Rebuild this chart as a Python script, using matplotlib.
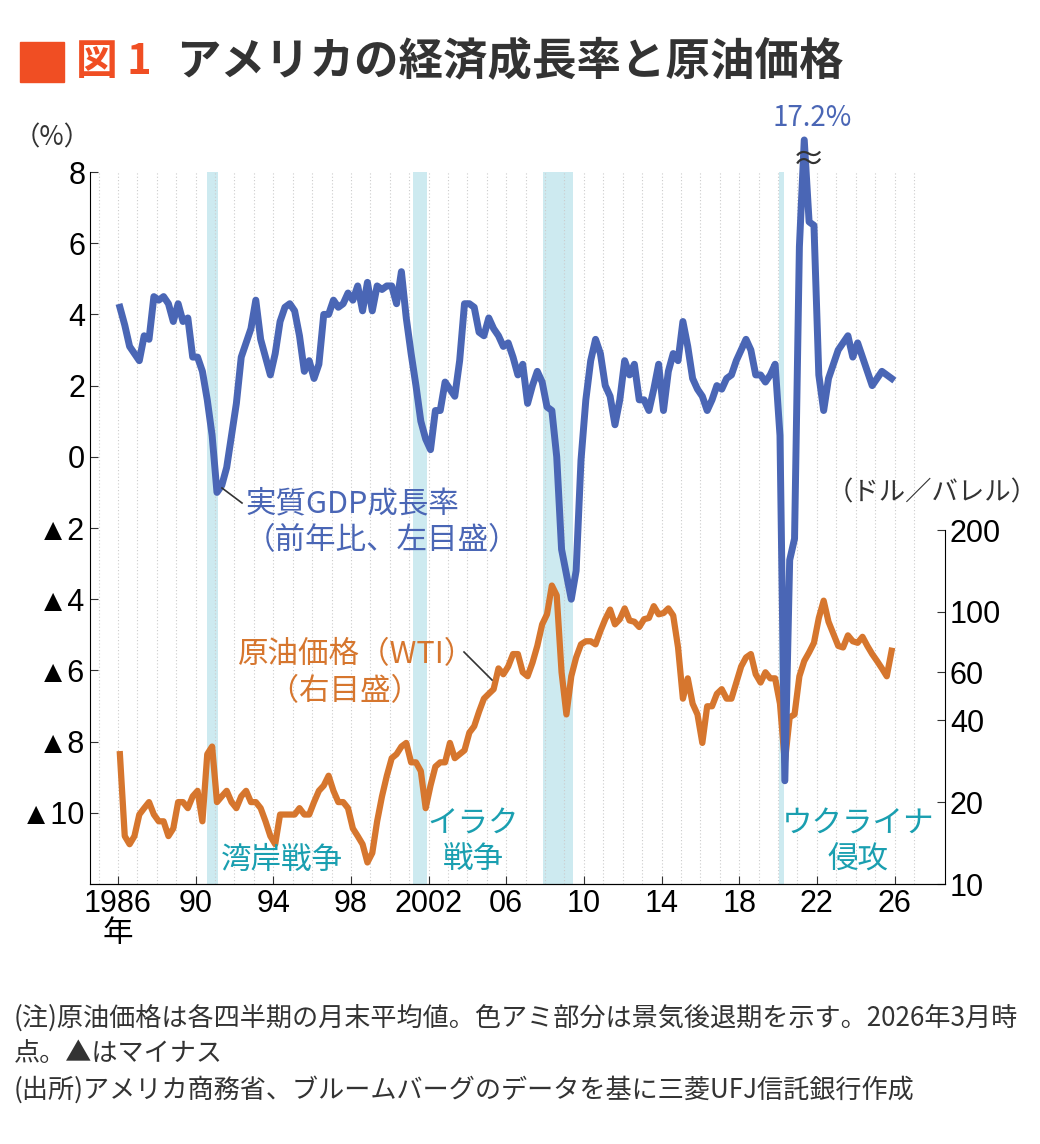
import matplotlib
matplotlib.use("Agg")
import matplotlib.pyplot as plt
import numpy as np

plt.rcParams['font.family'] = ['Noto Sans CJK JP', 'DejaVu Sans']

years = list(range(1986, 2026))
gdp = [4.2,3.7,3.1,2.9, 2.7,3.4,3.3,4.5, 4.4,4.5,4.3,3.8, 4.3,3.8,3.9,2.8,
       2.8,2.4,1.6,0.6, -1.0,-0.8,-0.3,0.6, 1.5,2.8,3.2,3.6, 4.4,3.3,2.8,2.3,
       2.9,3.8,4.2,4.3, 4.1,3.4,2.4,2.7, 2.2,2.6,4.0,4.0, 4.4,4.2,4.3,4.6,
       4.4,4.8,4.1,4.9, 4.1,4.8,4.7,4.8, 4.8,4.3,5.2,3.9, 2.9,2.0,1.0,0.5,
       0.2,1.3,1.3,2.1, 1.9,1.7,2.7,4.3, 4.3,4.2,3.5,3.4, 3.9,3.6,3.4,3.1,
       3.2,2.8,2.3,2.6, 1.5,2.0,2.4,2.1, 1.4,1.3,0.0,-2.6, -3.3,-4.0,-3.2,-0.1,
       1.6,2.7,3.3,2.9, 2.0,1.7,0.9,1.6, 2.7,2.3,2.6,1.6, 1.6,1.3,1.9,2.6,
       1.3,2.4,2.9,2.7, 3.8,3.1,2.2,1.9, 1.7,1.3,1.6,2.0, 1.9,2.2,2.3,2.7,
       3.0,3.3,3.0,2.3, 2.3,2.1,2.3,2.6, 0.6,-9.1,-2.9,-2.3, 5.9,17.2,6.6,6.5,
       2.3,1.3,2.2,2.6, 3.0,3.2,3.4,2.8, 3.2,2.8,2.4,2.0, 2.2,2.4,2.3,2.2]
oil = [30,15,14,15, 18,19,20,18, 17,17,15,16, 20,20,19,21,
       22,17,30,32, 20,21,22,20, 19,21,22,20, 20,19,17,15,
       14,18,18,18, 18,19,18,18, 20,22,23,25, 22,20,20,19,
       16,15,14,12, 13,17,21,25, 29,30,32,33, 28,28,26,19,
       23,27,28,28, 33,29,30,31, 36,38,43,48, 50,52,62,59,
       63,70,70,60, 58,65,75,90, 98,125,115,60, 42,58,68,76,
       78,78,76,85, 94,102,90,94, 103,93,92,88, 94,95,105,98,
       99,103,97,74, 48,57,46,42, 33,45,45,50, 52,48,48,55,
       63,68,70,59, 55,60,57,57, 46,28,41,42, 58,66,71,77,
       95,110,92,83, 75,74,82,78, 77,81,75,70, 66,62,58,72]
recessions = [(1990.6, 1991.15), (2001.2, 2001.9), (2007.9, 2009.45), (2020.05, 2020.3)]
xticks = [1986, 1990, 1994, 1998, 2002, 2006, 2010, 2014, 2018, 2022, 2026]
xticklabels = ['1986\n年', '90', '94', '98', '2002', '06', '10', '14', '18', '22', '26']
lticks = [8, 6, 4, 2, 0, -2, -4, -6, -8, -10]
lticklabels = ['8', '6', '4', '2', '0', '▲2', '▲4', '▲6', '▲8', '▲10']
rticks = [10, 20, 40, 60, 100, 200]

x = np.array([y + q / 4 for y in years for q in range(4)]) + 0.1

W, H = 1040, 1144
tickfont = ['Liberation Sans', 'Noto Sans CJK JP', 'DejaVu Sans']
fig = plt.figure(figsize=(W / 100, H / 100), dpi=100)
ax = fig.add_axes([90 / W, (H - 884) / H, (945 - 90) / W, (884 - 172) / H])
ax.set_xlim(1984.56, 2028.6)
ax.set_ylim(-12, 8)

ax2 = ax.twinx()
ax2.set_yscale('log')
ax2.set_ylim(10, 10 ** (1 + (884 - 172) / 354 * np.log10(20)))
for a, b in recessions:
    ax2.axvspan(a, b, color='#cdeaf0', lw=0, zorder=0)
for yr in range(1985, 2028):
    ax2.axvline(yr, color='#cccccc', lw=0.8, ls=(0, (1, 2)), zorder=0.5)
ax2.spines['right'].set_bounds(10, 200)
ax2.spines['top'].set_visible(False)
ax2.spines['left'].set_visible(False)
ax2.set_yticks(rticks)
ax2.set_yticklabels([str(t) for t in rticks], fontsize=22, family=tickfont)
ax2.yaxis.set_minor_locator(matplotlib.ticker.NullLocator())
ax2.tick_params(direction='in', length=6, color='#333333')

ax.spines['top'].set_visible(False)
ax.spines['right'].set_visible(False)
ax.set_yticks(lticks)
ax.set_yticklabels(lticklabels, fontsize=22, family=['Liberation Sans', 'DejaVu Sans'])
ax.set_xticks(xticks)
ax.set_xticklabels(xticklabels, fontsize=22, linespacing=1.0, family=tickfont)
ax.tick_params(direction='in', length=6, color='#333333')

ax2.plot(x, oil, color='#d6762e', lw=4.5, zorder=3)
g = np.minimum(np.array(gdp), 8.9)
ax.plot(x, g, color='#4a66b5', lw=5, clip_on=False, zorder=4)
ax.set_zorder(ax2.get_zorder() + 1)
ax.patch.set_visible(False)

fig.text(808 / W, 1 - 160 / H, '≈', fontsize=24, ha='center', va='center', color='#333333', zorder=10)
fig.text(812 / W, 1 - 118 / H, '17.2%', fontsize=20, ha='center', va='center', color='#4a66b5')

fig.text(52 / W, 1 - 138 / H, '（%）', fontsize=19, ha='center', va='center', color='#333333')
fig.text(932 / W, 1 - 493 / H, '（ドル／バレル）', fontsize=19, ha='center', va='center', color='#333333')

fig.text(245 / W, 1 - 522 / H, '実質GDP成長率\n（前年比、左目盛）', fontsize=22, ha='left', va='center',
         color='#4a66b5', linespacing=1.25)
fig.add_artist(plt.Line2D([222 / W, 242 / W], [1 - 488 / H, 1 - 503 / H], color='#333333', lw=1.2))
fig.text(238 / W, 1 - 673 / H, '原油価格（WTI）\n　（右目盛）', fontsize=22, ha='left', va='center',
         color='#d6762e', linespacing=1.25)
fig.add_artist(plt.Line2D([464 / W, 492 / W], [1 - 652 / H, 1 - 680 / H], color='#333333', lw=1.2))

teal = '#1a9fb0'
fig.text(282 / W, 1 - 860 / H, '湾岸戦争', fontsize=22, ha='center', va='center', color=teal)
fig.text(473 / W, 1 - 842 / H, 'イラク\n戦争', fontsize=22, ha='center', va='center', color=teal, linespacing=1.2)
fig.text(858 / W, 1 - 842 / H, 'ウクライナ\n侵攻', fontsize=22, ha='center', va='center', color=teal, linespacing=1.2)

fig.add_artist(matplotlib.patches.Rectangle((20 / W, 1 - 82 / H), 44 / W, 40 / H, color='#f04e23'))
fig.text(76 / W, 1 - 62 / H, '図 1', fontsize=30, fontweight='bold', ha='left', va='center', color='#f04e23')
fig.text(176 / W, 1 - 62 / H, 'アメリカの経済成長率と原油価格', fontsize=32, fontweight='bold',
         ha='left', va='center', color='#333333')

fig.text(14 / W, 1 - 1036 / H, '(注)原油価格は各四半期の月末平均値。色アミ部分は景気後退期を示す。2026年3月時\n点。▲はマイナス',
         fontsize=18.8, ha='left', va='center', color='#333333', linespacing=1.4)
fig.text(14 / W, 1 - 1090 / H, '(出所)アメリカ商務省、ブルームバーグのデータを基に三菱UFJ信託銀行作成',
         fontsize=18.8, ha='left', va='center', color='#333333')

fig.savefig('out.png', dpi=100)
